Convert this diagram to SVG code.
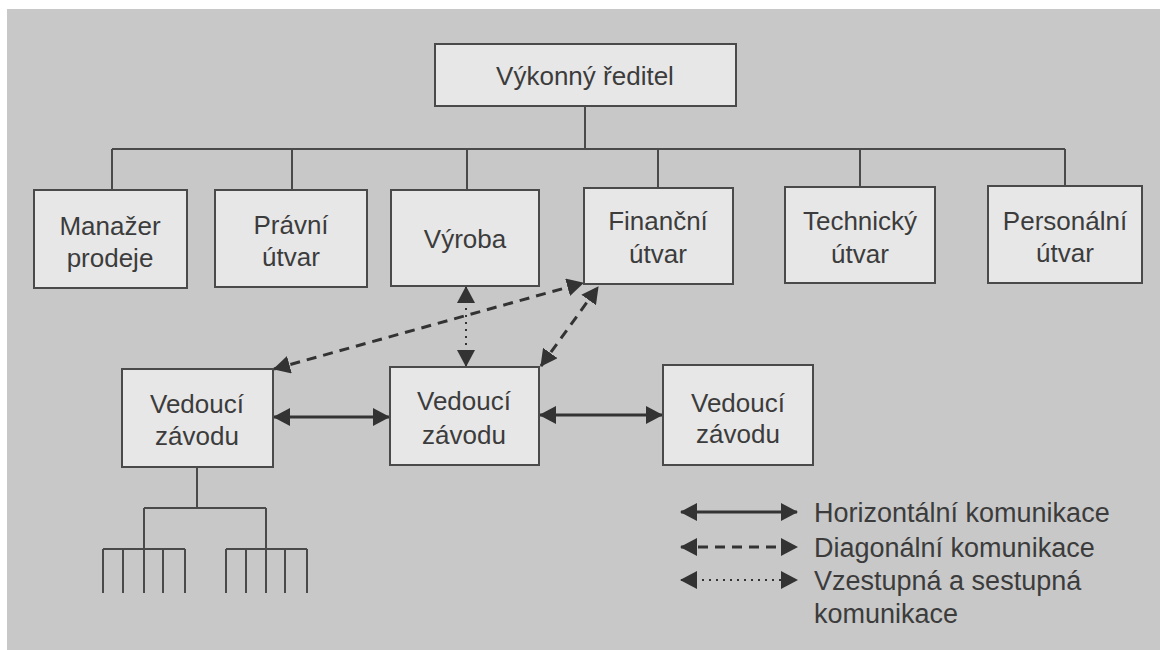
<svg xmlns="http://www.w3.org/2000/svg" width="1160" height="650" viewBox="0 0 1160 650">
<style>
.box{fill:#e7e7e7;stroke:#4a4a4a;stroke-width:2}
.t{font-family:"Liberation Sans",Arial,sans-serif;font-size:26px;fill:#3c3c3c;text-anchor:middle}
.lt{font-family:"Liberation Sans",Arial,sans-serif;font-size:27px;fill:#3c3c3c}
.tree{fill:none;stroke:#4a4a4a;stroke-width:2}
.arr{fill:none;stroke:#333;stroke-width:3}
.dash{stroke-dasharray:10 7}
.dot{stroke-dasharray:2 5;stroke-width:2}
</style>
<defs>
<marker id="ah" markerUnits="userSpaceOnUse" markerWidth="17" markerHeight="18" refX="16" refY="9" orient="auto-start-reverse">
<path d="M0,0 L17,9 L0,18 z" fill="#333"/>
</marker>
</defs>
<rect x="0" y="0" width="1160" height="650" fill="#ffffff"/>
<rect x="7" y="9" width="1153" height="641" fill="#c8c8c8"/>

<g id="connectors">
<path class="tree" d="M585,106 V149 M112,149 H1065 M112,149 V190 M292,149 V190 M467,149 V190 M658,149 V188 M860,149 V187 M1065,149 V186"/>
<path class="tree" d="M197,467 V508 M144,508 H266 M144,508 V549 M266,508 V549 M103,549 H185 M226,549 H307 M103,549 V593 M123,549 V593 M144,549 V593 M163,549 V593 M185,549 V593 M226,549 V593 M246,549 V593 M266,549 V593 M285,549 V593 M307,549 V593"/>
<line class="arr" x1="274" y1="417" x2="389" y2="417" marker-start="url(#ah)" marker-end="url(#ah)"/>
<line class="arr" x1="540" y1="415" x2="662" y2="415" marker-start="url(#ah)" marker-end="url(#ah)"/>
<line class="arr dot" x1="466" y1="287" x2="466" y2="366" marker-start="url(#ah)" marker-end="url(#ah)"/>
<line class="arr dash" x1="274" y1="369" x2="583" y2="283" marker-start="url(#ah)" marker-end="url(#ah)"/>
<line class="arr dash" x1="541" y1="366" x2="598" y2="287" marker-start="url(#ah)" marker-end="url(#ah)"/>
</g>

<g id="n-ceo"><rect class="box" x="435" y="44" width="301" height="62"/><text class="t" x="585" y="85">Výkonný ředitel</text></g>
<g id="n-prodej"><rect class="box" x="34" y="190" width="153" height="98"/><text class="t" x="110" y="235">Manažer</text><text class="t" x="110" y="267">prodeje</text></g>
<g id="n-pravni"><rect class="box" x="215" y="190" width="152" height="97"/><text class="t" x="291" y="234">Právní</text><text class="t" x="291" y="266">útvar</text></g>
<g id="n-vyroba"><rect class="box" x="391" y="190" width="148" height="96"/><text class="t" x="465" y="248">Výroba</text></g>
<g id="n-financni"><rect class="box" x="584" y="188" width="149" height="96"/><text class="t" x="658" y="230">Finanční</text><text class="t" x="658" y="263">útvar</text></g>
<g id="n-technicky"><rect class="box" x="785" y="187" width="150" height="96"/><text class="t" x="860" y="230">Technický</text><text class="t" x="860" y="263">útvar</text></g>
<g id="n-personalni"><rect class="box" x="988" y="186" width="154" height="97"/><text class="t" x="1065" y="230">Personální</text><text class="t" x="1065" y="262">útvar</text></g>
<g id="n-ved1"><rect class="box" x="122" y="369" width="151" height="98"/><text class="t" x="197" y="413">Vedoucí</text><text class="t" x="197" y="445">závodu</text></g>
<g id="n-ved2"><rect class="box" x="390" y="367" width="149" height="98"/><text class="t" x="464" y="410">Vedoucí</text><text class="t" x="464" y="444">závodu</text></g>
<g id="n-ved3"><rect class="box" x="663" y="365" width="150" height="100"/><text class="t" x="738" y="412">Vedoucí</text><text class="t" x="738" y="443">závodu</text></g>

<g id="legend">
<line class="arr" x1="681" y1="512" x2="797" y2="512" marker-start="url(#ah)" marker-end="url(#ah)"/>
<line class="arr dash" x1="681" y1="547" x2="797" y2="547" marker-start="url(#ah)" marker-end="url(#ah)"/>
<line class="arr dot" x1="681" y1="580" x2="797" y2="580" marker-start="url(#ah)" marker-end="url(#ah)"/>
<text class="lt" x="814" y="522">Horizontální komunikace</text>
<text class="lt" x="814" y="557">Diagonální komunikace</text>
<text class="lt" x="814" y="590">Vzestupná a sestupná</text>
<text class="lt" x="814" y="623">komunikace</text>
</g>
</svg>
